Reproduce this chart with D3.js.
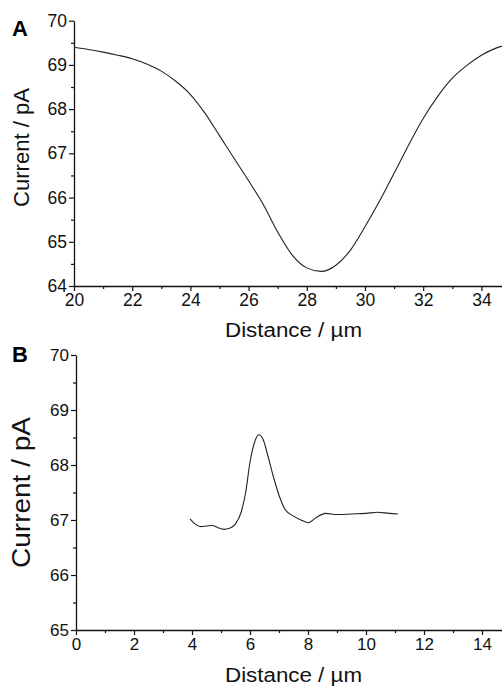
<!DOCTYPE html>
<html>
<head>
<meta charset="utf-8">
<script src="https://cdn.jsdelivr.net/npm/d3@7"></script>
<style>
  body { margin: 0; background: #fff; }
  svg { display: block; font-family: "Liberation Sans", Arial, sans-serif; }
</style>
</head>
<body>
<script>
// panel A: line scan across the dip
const distA = [20, 20.5, 21, 21.5, 22, 22.5, 23, 23.5, 24, 24.5, 25, 25.5, 26, 26.5, 27, 27.5,
  28, 28.5, 29, 29.5, 30, 30.5, 31, 31.5, 32, 32.5, 33, 33.5, 34, 34.5, 35];
const currentA = [69.40, 69.35, 69.29, 69.22, 69.14, 69.02, 68.86, 68.63, 68.33, 67.91, 67.40, 66.89,
  66.38, 65.85, 65.22, 64.70, 64.41, 64.33, 64.47, 64.81, 65.34, 65.92, 66.55, 67.19, 67.79,
  68.29, 68.70, 68.99, 69.22, 69.38, 69.48];

// panel B: line scan across the peak
const distB = [3.93, 4.1, 4.3, 4.5, 4.7, 4.9, 5.1, 5.3, 5.5, 5.7, 5.85, 6.0, 6.15, 6.3, 6.45, 6.6,
  6.8, 7.0, 7.2, 7.5, 7.8, 8.0, 8.3, 8.6, 9.0, 9.5, 10.0, 10.4, 10.8, 11.1];
const currentB = [67.02, 66.93, 66.88, 66.89, 66.90, 66.86, 66.83, 66.85, 66.93, 67.15, 67.5, 68.05,
  68.4, 68.55, 68.47, 68.2, 67.8, 67.45, 67.2, 67.07, 66.99, 66.95, 67.05, 67.12, 67.1, 67.11,
  67.12, 67.14, 67.12, 67.11];

// tick labels
const xTicksA = [20, 22, 24, 26, 28, 30, 32, 34];
const yTicksA = [64, 65, 66, 67, 68, 69, 70];
const xTicksB = [0, 2, 4, 6, 8, 10, 12, 14];
const yTicksB = [65, 66, 67, 68, 69, 70];

const app = {

  init: () => {
    app.svg = d3.select("body").append("svg")
      .attr("width", 502)
      .attr("height", 687);

    app.panel({
      letter: "A", xs: distA, ys: currentA,
      xDomain: [20, 35], xRange: [74, 510.5],
      yDomain: [64, 70], yRange: [286, 20.7],
      xTicks: xTicksA, yTicks: yTicksA,
      tickFont: 17.5,
      letterY: 36,
      yLabel: { x: 29, y: 147.5, size: 22, len: 119 },
      xLabel: { x: 293.5, y: 337, size: 20, len: 137 }
    });

    app.panel({
      letter: "B", xs: distB, ys: currentB,
      xDomain: [0, 15], xRange: [76, 511],
      yDomain: [65, 70], yRange: [630, 355],
      xTicks: xTicksB, yTicks: yTicksB,
      tickFont: 17,
      letterY: 361.5,
      yLabel: { x: 30, y: 492.5, size: 25, len: 151 },
      xLabel: { x: 293.5, y: 682, size: 20, len: 137 }
    });
  },

  panel: (p) => {
    const svg = app.svg;
    const x = d3.scaleLinear().domain(p.xDomain).range(p.xRange);
    const y = d3.scaleLinear().domain(p.yDomain).range(p.yRange);

    // minor ticks first (odd x values, half-unit y values)
    const xMinor = d3.range(p.xDomain[0] + 1, p.xDomain[1], 2);
    const yMinor = d3.range(p.yDomain[0] + 0.5, p.yDomain[1], 1);

    const xAxisY = p.yRange[0];
    const yAxisX = p.xRange[0];

    svg.append("g")
      .attr("transform", `translate(0,${xAxisY})`)
      .call(d3.axisBottom(x).tickValues(xMinor).tickSize(3).tickFormat(""))
      .call(g => g.select(".domain").remove());
    svg.append("g")
      .attr("transform", `translate(${yAxisX},0)`)
      .call(d3.axisLeft(y).tickValues(yMinor).tickSize(3).tickFormat(""))
      .call(g => g.select(".domain").remove());

    const xAxis = svg.append("g")
      .attr("transform", `translate(0,${xAxisY})`)
      .call(d3.axisBottom(x).tickValues(p.xTicks).tickSize(5).tickPadding(3).tickSizeOuter(0)
        .tickFormat(d3.format("d")));
    const yAxis = svg.append("g")
      .attr("transform", `translate(${yAxisX},0)`)
      .call(d3.axisLeft(y).tickValues(p.yTicks).tickSize(5).tickPadding(2).tickSizeOuter(0)
        .tickFormat(d3.format("d")));

    [xAxis, yAxis].forEach(g => {
      g.selectAll("text")
        .style("font-family", "'Liberation Sans', Arial, sans-serif")
        .style("font-size", p.tickFont + "px")
        .attr("fill", "#111");
      g.select(".domain").attr("stroke", "#111").attr("stroke-width", 1.3);
    });
    svg.selectAll(".tick line").attr("stroke", "#111").attr("stroke-width", 1.2);

    // the curve
    const line = d3.line()
      .x((d, i) => x(p.xs[i]))
      .y(d => y(d))
      .curve(d3.curveMonotoneX);

    svg.append("path")
      .datum(p.ys)
      .attr("d", line)
      .attr("fill", "none")
      .attr("stroke", "#222")
      .attr("stroke-width", 1.1);

    // axis titles
    svg.append("text")
      .attr("transform", `translate(${p.yLabel.x},${p.yLabel.y}) rotate(-90)`)
      .attr("text-anchor", "middle")
      .attr("textLength", p.yLabel.len)
      .attr("lengthAdjust", "spacingAndGlyphs")
      .style("font-size", p.yLabel.size + "px")
      .attr("fill", "#111")
      .text("Current / pA");

    svg.append("text")
      .attr("x", p.xLabel.x)
      .attr("y", p.xLabel.y)
      .attr("text-anchor", "middle")
      .attr("textLength", p.xLabel.len)
      .attr("lengthAdjust", "spacingAndGlyphs")
      .style("font-size", p.xLabel.size + "px")
      .attr("fill", "#111")
      .text("Distance / µm");

    // panel letter
    svg.append("text")
      .attr("x", 12)
      .attr("y", p.letterY)
      .style("font-size", "22px")
      .style("font-weight", "bold")
      .attr("fill", "#000")
      .text(p.letter);
  }

}

app.init();
</script>
</body>
</html>
